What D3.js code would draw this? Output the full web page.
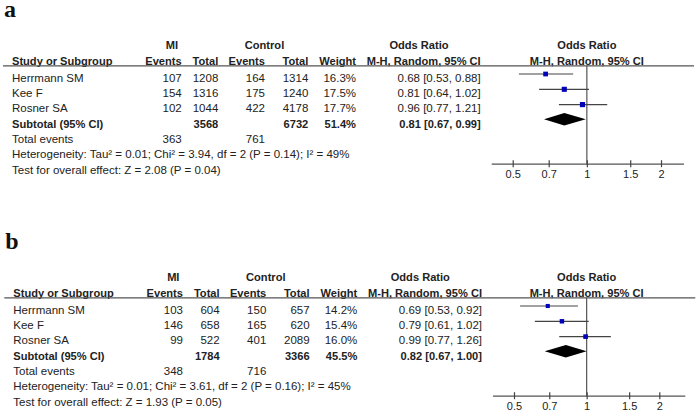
<!DOCTYPE html>
<html><head><meta charset="utf-8">
<script src="https://cdn.jsdelivr.net/npm/d3@7"></script>
<style>
html,body{margin:0;padding:0;background:#fff;}
svg{display:block;}
</style></head>
<body>
<script>
// ---------- data ----------
const studies = ["Herrmann SM", "Kee F", "Rosner SA"];
const tickValues = [0.5, 0.7, 1, 1.5, 2];
const tickLabels = ["0.5", "0.7", "1", "1.5", "2"];

// panel a
const aMiEvents = [107, 154, 102];
const aMiTotal = [1208, 1316, 1044];
const aCtrlEvents = [164, 175, 422];
const aCtrlTotal = [1314, 1240, 4178];
const aWeight = [16.3, 17.5, 17.7];
const aOR = [0.68, 0.81, 0.96];
const aLow = [0.53, 0.64, 0.77];
const aHigh = [0.88, 1.02, 1.21];
const aSubtotal = [3568, 6732, 51.4, 0.81, 0.67, 0.99]; // miTotal, ctrlTotal, weight, OR, low, high
const aTotalEvents = [363, 761];
const aHeterogeneity = "Heterogeneity: Tau\u00B2 = 0.01; Chi\u00B2 = 3.94, df = 2 (P = 0.14); I\u00B2 = 49%";
const aOverall = "Test for overall effect: Z = 2.08 (P = 0.04)";

// panel b
const bMiEvents = [103, 146, 99];
const bMiTotal = [604, 658, 522];
const bCtrlEvents = [150, 165, 401];
const bCtrlTotal = [657, 620, 2089];
const bWeight = [14.2, 15.4, 16.0];
const bOR = [0.69, 0.79, 0.99];
const bLow = [0.53, 0.61, 0.77];
const bHigh = [0.92, 1.02, 1.26];
const bSubtotal = [1784, 3366, 45.5, 0.82, 0.67, 1.00];
const bTotalEvents = [348, 716];
const bHeterogeneity = "Heterogeneity: Tau\u00B2 = 0.01; Chi\u00B2 = 3.61, df = 2 (P = 0.16); I\u00B2 = 45%";
const bOverall = "Test for overall effect: Z = 1.93 (P = 0.05)";

// ---------- drawing ----------
const W = 698, H = 416;
const svg = d3.select("body").append("svg").attr("width", W).attr("height", H);
const FONT = "'Liberation Sans', Arial, Helvetica, sans-serif";
const TXT = "#222";
const f2 = d3.format(".2f");

function drawPanel(p) {
  const g = svg.append("g").attr("transform", `translate(${p.dx},${p.dy})`);
  const reg = 11.5, bold = 11.1;
  const text = (x, y, s, anchor, isBold) => g.append("text")
      .attr("x", x).attr("y", y).attr("dy", "0.35em")
      .attr("text-anchor", anchor || "start")
      .attr("font-family", FONT)
      .attr("font-size", isBold ? bold : reg)
      .attr("font-weight", isBold ? "bold" : "normal")
      .attr("fill", TXT).text(s);

  // panel letter
  g.append("text").attr("x", 4).attr("y", 17).attr("dominant-baseline", "alphabetic")
    .attr("font-family", "'Liberation Serif', 'Times New Roman', serif")
    .attr("font-size", 24).attr("font-weight", "bold").attr("fill", "#111").text(p.letter);

  // column right edges
  const cMiE = 181.7, cMiT = 218.3, cCtE = 265, cCtT = 308.3, cW = 356, cOR = 480.7, xLab = 12;

  // header
  const h1 = 45, h2 = 61.5;
  text(172, h1, "MI", "middle", true);
  text(264.5, h1, "Control", "middle", true);
  text(419, h1, "Odds Ratio", "middle", true);
  text(xLab, h2, "Study or Subgroup", "start", true);
  text(cMiE, h2, "Events", "end", true);
  text(cMiT, h2, "Total", "end", true);
  text(cCtE, h2, "Events", "end", true);
  text(cCtT, h2, "Total", "end", true);
  text(cW, h2, "Weight", "end", true);
  text(cOR, h2, "M-H, Random, 95% CI", "end", true);

  // forest scale
  const x = d3.scaleLog().domain([0.5, 2]).range(p.range);
  text(x(1), h1, "Odds Ratio", "middle", true);
  text(x(1), h2, "M-H, Random, 95% CI", "middle", true);

  const lineY = 65.8;
  g.append("line").attr("x1", 3).attr("x2", 694).attr("y1", lineY).attr("y2", lineY)
    .attr("stroke", "#555").attr("stroke-width", 1.2);

  const rowY = i => 77.5 + i * 15.3;
  studies.forEach((s, i) => {
    const y = rowY(i);
    text(xLab, y, s, "start");
    text(cMiE, y, p.miE[i], "end");
    text(cMiT, y, p.miT[i], "end");
    text(cCtE, y, p.ctE[i], "end");
    text(cCtT, y, p.ctT[i], "end");
    text(cW, y, p.w[i].toFixed(1) + "%", "end");
    text(cOR, y, `${f2(p.or[i])} [${f2(p.lo[i])}, ${f2(p.hi[i])}]`, "end");
  });
  const sY = rowY(3) + 0.4;
  const st = p.sub;
  text(xLab, sY, "Subtotal (95% CI)", "start", true);
  text(cMiT, sY, st[0], "end", true);
  text(cCtT, sY, st[1], "end", true);
  text(cW, sY, st[2].toFixed(1) + "%", "end", true);
  text(cOR, sY, `${f2(st[3])} [${f2(st[4])}, ${f2(st[5])}]`, "end", true);

  text(xLab, 138.5, "Total events", "start");
  text(cMiE, 138.5, p.tot[0], "end");
  text(cCtE, 138.5, p.tot[1], "end");
  text(xLab, 154.2, p.het, "start");
  text(xLab, 169.8, p.ov, "start");

  // axis
  const axY = 164.2;
  const axLo = x.invert(491.7), axHi = x.invert(684);
  // vertical line of no effect
  g.append("line").attr("x1", x(1)).attr("x2", x(1)).attr("y1", lineY).attr("y2", axY)
    .attr("stroke", "#555").attr("stroke-width", 1.2);
  g.append("line").attr("x1", x(axLo)).attr("x2", x(axHi)).attr("y1", axY).attr("y2", axY)
    .attr("stroke", "#555").attr("stroke-width", 1.2);
  const axis = d3.axisBottom(x).tickValues(tickValues).tickFormat((d, i) => tickLabels[i])
    .tickSizeInner(3).tickSizeOuter(0).tickPadding(3);
  const ag = g.append("g").attr("transform", `translate(0,${axY})`).call(axis);
  ag.select(".domain").remove();
  ag.selectAll(".tick line").attr("y1", -4).attr("y2", 3).attr("stroke", "#444").attr("stroke-width", 1.2);
  ag.selectAll(".tick text").attr("font-family", FONT).attr("font-size", 11).attr("fill", TXT).attr("dy", "0.71em");

  // CI lines and squares
  studies.forEach((s, i) => {
    const y = rowY(i) - 3.5;
    g.append("line").attr("x1", x(p.lo[i])).attr("x2", x(p.hi[i])).attr("y1", y).attr("y2", y)
      .attr("stroke", "#444").attr("stroke-width", 1.2);
    const sz = p.w[i] * 0.29;
    g.append("rect").attr("x", x(p.or[i]) - sz / 2).attr("y", y - sz / 2)
      .attr("width", sz).attr("height", sz).attr("fill", "#0000b8");
  });
  // diamond
  const dy = sY - 4.6, hh = 6.2;
  g.append("path")
    .attr("d", `M${x(st[4])},${dy} L${x(st[3])},${dy - hh} L${x(st[5])},${dy} L${x(st[3])},${dy + hh} Z`)
    .attr("fill", "#000");
}

drawPanel({letter: "a", dx: 0, dy: 0, range: [512.7, 661],
  miE: aMiEvents, miT: aMiTotal, ctE: aCtrlEvents, ctT: aCtrlTotal, w: aWeight,
  or: aOR, lo: aLow, hi: aHigh, sub: aSubtotal, tot: aTotalEvents, het: aHeterogeneity, ov: aOverall});
drawPanel({letter: "b", dx: 1.3, dy: 232, range: [514 - 1.3, 659.3 - 1.3],
  miE: bMiEvents, miT: bMiTotal, ctE: bCtrlEvents, ctT: bCtrlTotal, w: bWeight,
  or: bOR, lo: bLow, hi: bHigh, sub: bSubtotal, tot: bTotalEvents, het: bHeterogeneity, ov: bOverall});
</script>
</body></html>
